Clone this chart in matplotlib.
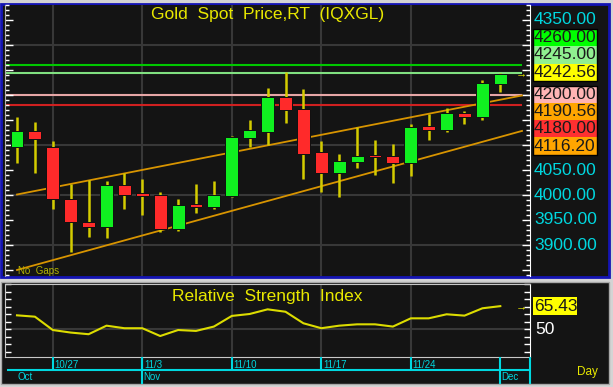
import numpy as np
import matplotlib
matplotlib.use('Agg')
import matplotlib.pyplot as plt
from matplotlib.patches import Rectangle
from matplotlib.ticker import MultipleLocator

plt.rcParams['font.family'] = ['Liberation Sans', 'DejaVu Sans']

# daily bars, gold spot
dates = ['10/23', '10/24', '10/27', '10/28', '10/29', '10/30', '10/31',
         '11/3', '11/4', '11/5', '11/6', '11/7',
         '11/10', '11/11', '11/12', '11/13', '11/14',
         '11/17', '11/18', '11/19', '11/20', '11/21',
         '11/24', '11/25', '11/26', '11/27', '11/28', '12/1']
opens = [4096.6, 4128.6, 4095.4, 3992.6, 3945.4, 3935.4, 4020.6,
         4003.4, 4000.0, 3931.4, 3981.4, 3976.0,
         3998.6, 4113.4, 4126.6, 4196.6, 4172.0,
         4085.4, 4044.0, 4066.6, 4080.0, 4078.6,
         4064.0, 4137.4, 4129.4, 4164.0, 4156.0, 4221.4]
highs = [4156.6, 4146.6, 4108.6, 4022.0, 4030.0, 4028.6, 4044.6,
         4031.4, 4006.0, 3991.4, 4021.4, 4028.0,
         4118.6, 4149.4, 4214.6, 4246.6, 4212.0,
         4108.0, 4082.6, 4136.6, 4110.6, 4101.4,
         4141.4, 4162.6, 4173.4, 4168.0, 4229.4, 4245.0]
lows = [4064.6, 4043.4, 3971.4, 3886.0, 3916.6, 3914.0, 3971.4,
        3960.6, 3926.6, 3928.6, 3963.4, 3972.0,
        3996.0, 4096.0, 4100.0, 4144.6, 4032.0,
        4006.6, 3996.0, 4053.4, 4040.0, 4024.0,
        4038.6, 4109.4, 4127.0, 4141.4, 4149.4, 4206.6]
closes = [4128.6, 4111.4, 3991.4, 3946.0, 3935.4, 4020.6, 4000.6,
          3998.0, 3931.4, 3980.6, 3976.0, 4000.0,
          4116.0, 4129.4, 4196.0, 4170.0, 4081.4,
          4044.0, 4068.0, 4078.6, 4076.0, 4064.0,
          4136.0, 4129.4, 4164.0, 4156.0, 4224.0, 4242.56]
rsi = [59.3, 58.4, 49.5, 47.8, 46.7, 52.4, 50.7,
       50.7, 45.5, 49.5, 48.9, 51.8,
       58.9, 60.2, 63.3, 61.7, 54.0,
       50.7, 52.4, 53.3, 53.3, 51.8,
       57.3, 57.3, 60.0, 59.1, 64.0, 65.43]

week_marks = ['10/27', '11/3', '11/10', '11/17', '11/24']
month_names = ['Oct', 'Nov', 'Dec']
month_starts = ['10/23', '11/3', '12/1']

levels = [4260.0, 4245.0, 4200.0, 4180.0]
level_colors = ['#00c800', '#80e080', '#e6a6a6', '#d02020']
upper_trend = [4001.0, 4190.56]   # first bar, last bar
lower_trend = [3850.0, 4116.20]
plain_labels = [4350, 4050, 4000, 3950, 3900]

W, H = 613, 387
BG = '#141414'
GRID = '#383838'
CYAN = '#00d8e0'
YEL = '#e8e800'

fig = plt.figure(figsize=(W / 100, H / 100), dpi=100, facecolor='#d4d4d4')


def px_axes(x0, y0, x1, y1):
    return fig.add_axes([x0 / W, 1 - y1 / H, (x1 - x0) / W, (y1 - y0) / H])


# panel backgrounds
bg = fig.add_axes([0, 0, 1, 1], zorder=-10)
bg.set_xlim(0, W)
bg.set_ylim(H, 0)
bg.axis('off')
bg.add_patch(Rectangle((1, 4), 608, 273, fc=BG, ec='#1414b4', lw=2))
bg.add_patch(Rectangle((1, 282), 608, 102, fc=BG, ec='#a8a8a8', lw=1))

n = len(dates)
x = np.arange(n)
bar_px = 17.9
xlim = (-12 / bar_px, 513 / bar_px)
line_end = 505 / bar_px

# ---- price panel
ax = px_axes(5, 5, 530, 276)
ax.set_facecolor(BG)
ax.set_xlim(*xlim)
ax.set_ylim(3838, 4380)

for g in np.arange(3900, 4301, 100):
    ax.axhline(g, color=GRID, lw=1.5, zorder=0.5)
for w in week_marks:
    ax.axvline(dates.index(w), color=GRID, lw=1.5, zorder=0.5)

ax.hlines(levels, xlim[0], line_end, colors=level_colors, lw=1.5, zorder=1.5)

tx = np.array([0, line_end])
for v0, v1 in (upper_trend, lower_trend):
    ax.plot(tx, v0 + (v1 - v0) / (n - 1) * tx, color='#d89400', lw=1.3, zorder=1.6)

for i in range(n):
    o, h, l, c = opens[i], highs[i], lows[i], closes[i]
    col = '#10f020' if c >= o else '#ff2a2a'
    ax.vlines(i, l, h, color='#d4cc00', lw=1.8, zorder=2)
    ax.add_patch(Rectangle((i - 0.36, min(o, c)), 0.72, max(abs(c - o), 3),
                           fc=col, ec='#101010', lw=0.7, zorder=3))

ax.set_xticks([])
ax.yaxis.set_major_locator(MultipleLocator(50))
ax.yaxis.set_minor_locator(MultipleLocator(10))
ax.tick_params(axis='y', which='both', direction='in', left=True, right=True,
               labelleft=False, labelright=False, colors='white', width=1)
ax.tick_params(axis='y', which='major', length=6)
ax.tick_params(axis='y', which='minor', length=3)
for s in ('top', 'bottom'):
    ax.spines[s].set_visible(False)
ax.spines['left'].set_color('#b0b0b0')
ax.spines['right'].set_color('white')

fig.text(268 / W, 1 - 15 / H, 'Gold  Spot  Price,RT  (IQXGL)', ha='center', va='center',
         color=YEL, fontsize=12.5)
fig.text(18 / W, 1 - 271 / H, 'No  Gaps', color='#b4b400', fontsize=7, va='center')


def yfrac(a, v):
    return a.transData.transform((0, v))[1] / H


fig.text(521 / W, yfrac(ax, closes[-1]), '→', color=YEL, fontsize=8, ha='center', va='center')

for v in plain_labels:
    fig.text(534 / W, yfrac(ax, v), '%.2f' % v, color=CYAN, fontsize=12.5, va='center')

box_vals = [levels[0], levels[1], closes[-1], levels[2], upper_trend[1], levels[3], lower_trend[1]]
box_colors = ['#00ff00', '#90f090', '#ffff00', '#ffb4b4', '#ffa500', '#ff3030', '#ffa500']
box_tops = [29, 46.3, 63.6, 85.5, 102.8, 120.1, 137.4]
bh = 17.3
for v, fc, top in zip(box_vals, box_colors, box_tops):
    fig.add_artist(Rectangle((533 / W, 1 - (top + bh) / H), 64 / W, bh / H,
                             transform=fig.transFigure, fc=fc, ec='none'))
    fig.text(534 / W, 1 - (top + bh / 2) / H, '%.2f' % v, color='#1a1a1a',
             fontsize=12.5, va='center')
for top, bot in ((29, 63.6 + bh), (85.5, 137.4 + bh)):
    fig.add_artist(Rectangle((533 / W, 1 - bot / H), 64 / W, (bot - top) / H,
                             transform=fig.transFigure, fc='none', ec='#000000', lw=1))

# ---- RSI panel
rax = px_axes(5, 284, 530, 356.7)
rax.set_facecolor(BG)
rax.set_xlim(*xlim)
rax.set_ylim(31.7, 80.2)
rax.axhline(50, color=GRID, lw=1.5, zorder=0.5)
for w in week_marks:
    rax.axvline(dates.index(w), color=GRID, lw=1.5, zorder=0.5)
rax.plot(x, rsi, color='#dcdc00', lw=1.5)
rax.set_xticks([])
rax.yaxis.set_major_locator(MultipleLocator(5))
rax.tick_params(axis='y', direction='in', left=True, right=True, labelleft=False,
                labelright=False, colors='white', length=4, width=1)
for s in ('top', 'bottom', 'left'):
    rax.spines[s].set_color('#c8c8c8')
rax.spines['right'].set_color('white')

fig.text(267 / W, 1 - 296 / H, 'Relative  Strength  Index', ha='center', va='center',
         color=YEL, fontsize=12.5)
fig.text(535 / W, yfrac(rax, 50), '50', color='white', fontsize=12.5, va='center')
yr = yfrac(rax, rsi[-1])
fig.add_artist(Rectangle((533 / W, yr - 9 / H), 44 / W, 18 / H,
                         transform=fig.transFigure, fc='#ffff00', ec='none'))
fig.text(534 / W, yr, '%.2f' % rsi[-1], color='#1a1a1a', fontsize=12.5, va='center')
fig.text(521 / W, yr, '→', color=YEL, fontsize=8, ha='center', va='center')

# ---- date axis
dax = px_axes(5, 357, 530, 384)
dax.set_xlim(*xlim)
dax.set_ylim(384, 357)
dax.axis('off')
dax.hlines(370, -10 / bar_px, xlim[1], color=CYAN, lw=1.5, clip_on=False)
for w in week_marks:
    i = dates.index(w)
    dax.vlines(i, 357, 370, color=CYAN, lw=1.5)
    dax.text(i + 0.1, 364.5, w, color=CYAN, fontsize=7, va='center')
for name, start in zip(month_names, month_starts):
    i = dates.index(start)
    if i > 0:
        dax.vlines(i, 357, 384, color=CYAN, lw=1.5)
    dax.text(i + 0.05, 377.5, name, color=CYAN, fontsize=7, va='center')
dax.vlines(xlim[1], 357, 384, color=CYAN, lw=1.5, clip_on=False)
fig.text(587 / W, 1 - 372 / H, 'Day', color=YEL, fontsize=8.5, ha='center', va='center')

fig.savefig('out.png', dpi=100, facecolor=fig.get_facecolor())
